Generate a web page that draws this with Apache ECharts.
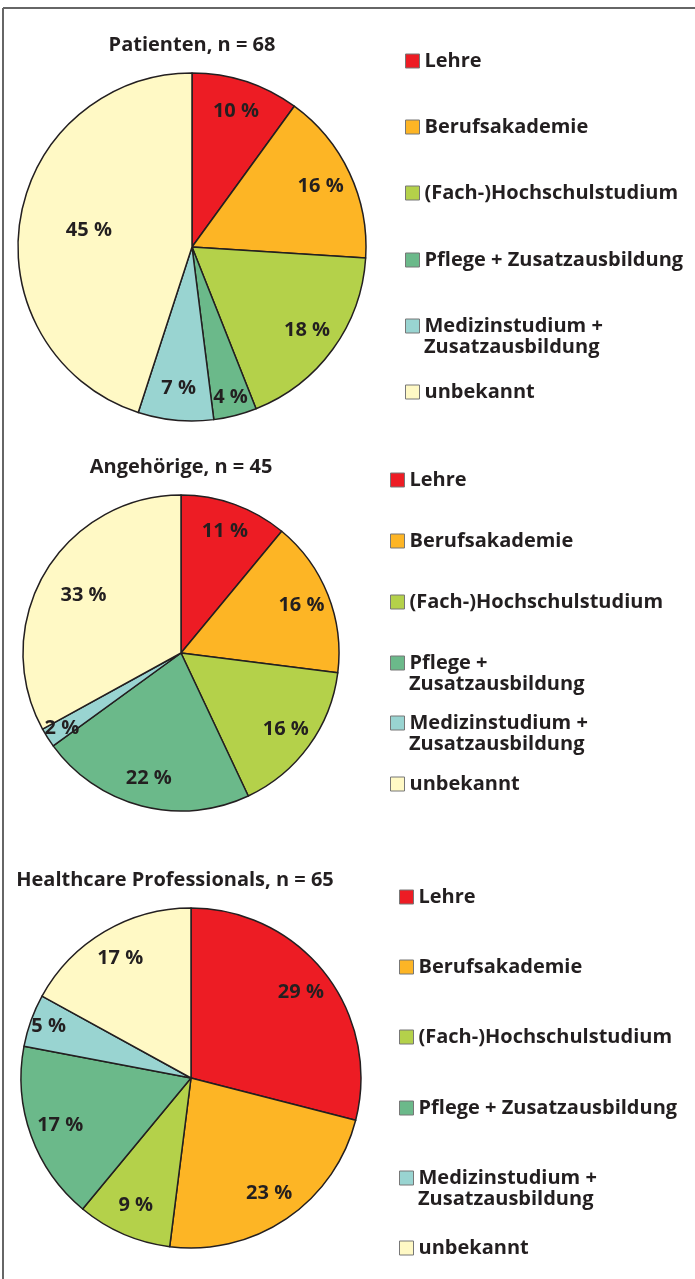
<!DOCTYPE html>
<html>
<head>
<meta charset="utf-8">
<script src="https://cdn.jsdelivr.net/npm/echarts@6/dist/echarts.min.js"></script>
<style>
  html, body { margin: 0; padding: 0; background: #fff; }
  #main { width: 695px; height: 1279px; }
</style>
</head>
<body>
<div id="main"></div>
<script>
// Kategorien (Reihenfolge im Uhrzeigersinn ab 12 Uhr)
var categories = ['Lehre', 'Berufsakademie', '(Fach-)Hochschulstudium',
    'Pflege + Zusatzausbildung', 'Medizinstudium + Zusatzausbildung', 'unbekannt'];
var colors = ['#ed1c24', '#fdb525', '#b4d14a', '#6bb98a', '#99d4d1', '#fff9c5'];

var titles = ['Patienten, n = 68', 'Angehörige, n = 45', 'Healthcare Professionals, n = 65'];
var patienten = [10, 16, 18, 4, 7, 45];
var angehoerige = [11, 16, 16, 22, 2, 33];
var professionals = [29, 23, 9, 17, 5, 17];
var values = [patienten, angehoerige, professionals];

// Layout der drei Blöcke
var pies = [
    { cx: 192, cy: 247, r: 174, titleX: 192, titleY: 35, legX: 405, legY: [61, 127, 193, 260, 326, 392], twoLine: [4] },
    { cx: 181, cy: 653, r: 158, titleX: 181, titleY: 457, legX: 390, legY: [480, 541, 602, 663, 723, 784], twoLine: [3, 4] },
    { cx: 191, cy: 1078, r: 170, titleX: 175, titleY: 870, legX: 399, legY: [897, 967, 1037, 1108, 1178, 1248], twoLine: [4] }
];

var font = '"Open Sans", "Noto Sans", sans-serif';
var textColor = '#231f20';
var fs = 20;

var firstLine = function (name) {
    var i = name.indexOf(' + ');
    return i >= 0 ? name.slice(0, i + 2) : name;
};

var series = [], title = [], legend = [], graphic = [];

pies.forEach(function (p, k) {
    title.push({
        text: titles[k],
        left: p.titleX,
        top: p.titleY,
        textAlign: 'center',
        padding: 0,
        textStyle: { fontFamily: font, fontSize: fs, fontWeight: 'bold', color: textColor }
    });
    series.push({
        type: 'pie',
        center: [p.cx, p.cy],
        radius: p.r,
        startAngle: 90,
        clockwise: true,
        animation: false,
        emphasis: { scale: false },
        itemStyle: { borderColor: textColor, borderWidth: 1.5 },
        label: {
            show: true,
            position: 'inside',
            formatter: '{c} %',
            fontFamily: font,
            fontSize: fs,
            fontWeight: 'bold',
            color: textColor
        },
        labelLine: { show: false },
        // Beschriftungen weiter nach außen schieben (große Stücke weniger)
        labelLayout: function (params) {
            var v = values[k][params.dataIndex];
            var f = v > 40 ? 0.58 : v > 30 ? 0.69 : (v < 6 ? 0.86 : 0.79);
            var lx = params.labelRect.x + params.labelRect.width / 2;
            var ly = params.labelRect.y + params.labelRect.height / 2;
            return {
                x: p.cx + (lx - p.cx) * f / 0.5,
                y: p.cy + (ly - p.cy) * f / 0.5
            };
        },
        data: categories.map(function (c, i) {
            return { name: c, value: values[k][i], itemStyle: { color: colors[i] } };
        })
    });
    categories.forEach(function (c, i) {
        legend.push({
            data: [c],
            left: p.legX,
            top: p.legY[i] - 12,
            padding: 0,
            itemWidth: 14,
            itemHeight: 14,
            itemGap: 6,
            selectedMode: false,
            icon: 'rect',
            itemStyle: { borderColor: '#777', borderWidth: 1 },
            formatter: function (name) {
                return p.twoLine.indexOf(i) >= 0 ? firstLine(name) : name;
            },
            textStyle: { fontFamily: font, fontSize: fs, fontWeight: 'bold', color: textColor, lineHeight: 24 }
        });
        if (p.twoLine.indexOf(i) >= 0) {
            graphic.push({
                type: 'text',
                left: p.legX + 19,
                top: p.legY[i] + 11,
                style: { text: 'Zusatzausbildung', font: 'bold ' + fs + 'px ' + font, fill: textColor }
            });
        }
    });
});

// Rahmen oben und links
graphic.push({ type: 'line', shape: { x1: 3, y1: 8, x2: 695, y2: 8 }, style: { stroke: '#666', lineWidth: 2 } });
graphic.push({ type: 'line', shape: { x1: 3, y1: 8, x2: 3, y2: 1279 }, style: { stroke: '#666', lineWidth: 2 } });

var myChart = echarts.init(document.getElementById('main'));
myChart.setOption({
    backgroundColor: '#fff',
    animation: false,
    title: title,
    legend: legend,
    graphic: graphic,
    series: series
});
</script>
</body>
</html>
